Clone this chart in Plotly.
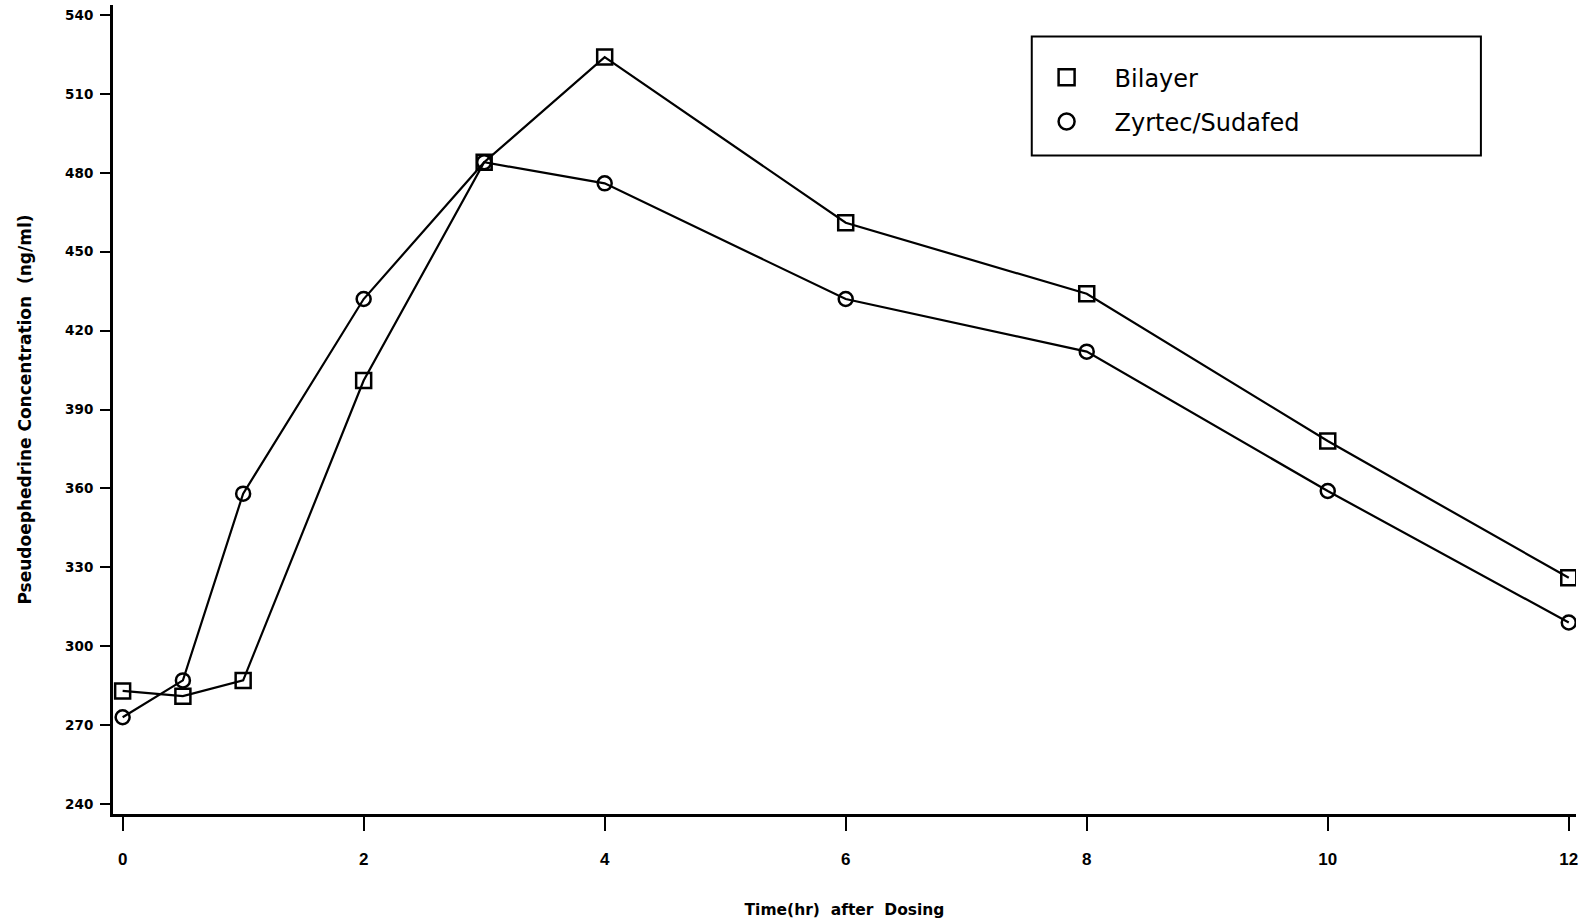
import plotly.graph_objects as go

time_hr = [0, 0.5, 1, 2, 3, 4, 6, 8, 10, 12]
bilayer = [283, 281, 287, 401, 484, 524, 461, 434, 378, 326]
zyrtec_sudafed = [273, 287, 358, 432, 484, 476, 432, 412, 359, 309]
x_ticks = [0, 2, 4, 6, 8, 10, 12]
y_ticks = [240, 270, 300, 330, 360, 390, 420, 450, 480, 510, 540]

FONT = "DejaVu Sans, Verdana, sans-serif"
FONT_B = "Liberation Sans, Arial, sans-serif"

fig = go.Figure()
fig.add_trace(go.Scatter(
    x=time_hr, y=bilayer, mode="lines+markers", name="Bilayer", showlegend=False,
    line=dict(color="black", width=2.2),
    marker=dict(symbol="square-open", size=15, color="black", line=dict(width=2.5, color="black")),
))
fig.add_trace(go.Scatter(
    x=time_hr, y=zyrtec_sudafed, mode="lines+markers", name="Zyrtec/Sudafed", showlegend=False,
    line=dict(color="black", width=2.2),
    marker=dict(symbol="circle-open", size=14, color="black", line=dict(width=2.5, color="black")),
))
# legend-only entries (marker symbol only, no line)
fig.add_trace(go.Scatter(
    x=[None], y=[None], mode="markers", name="Bilayer", legendgroup="a",
    marker=dict(symbol="square-open", size=23, color="black", line=dict(width=2.5, color="black")),
))
fig.add_trace(go.Scatter(
    x=[None], y=[None], mode="markers", name="Zyrtec/Sudafed", legendgroup="b",
    marker=dict(symbol="circle-open", size=23, color="black", line=dict(width=2.5, color="black")),
))

fig.update_layout(
    width=1588, height=921,
    margin=dict(l=113, r=12, t=5, b=103),
    paper_bgcolor="white", plot_bgcolor="white",
    font=dict(family=FONT, color="black"),
    showlegend=True,
    legend=dict(
        x=0.619, y=0.938, xanchor="left", yanchor="top",
        bgcolor="rgba(0,0,0,0)", borderwidth=0,
        font=dict(size=24, family=FONT, color="black"),
        tracegroupgap=10, itemwidth=86,
    ),
    shapes=[dict(
        type="rect", xref="paper", yref="paper",
        x0=0.628, x1=0.935, y0=0.814, y1=0.961,
        line=dict(color="black", width=2), fillcolor="rgba(0,0,0,0)",
    )],
    xaxis=dict(
        range=[-0.08, 12.06], tickmode="array", tickvals=x_ticks,
        showgrid=False, zeroline=False,
        showline=True, linecolor="black", linewidth=3,
        ticks="outside", ticklen=14, tickwidth=2, tickcolor="black",
        ticklabelstandoff=14,
        tickfont=dict(size=17, family=FONT_B, color="black", weight="bold"),
        title=dict(text="<b>Time(hr)  after  Dosing</b>", font=dict(size=15.5, family=FONT), standoff=36),
    ),
    yaxis=dict(
        range=[236.2, 543.8], tickmode="array", tickvals=y_ticks,
        showgrid=False, zeroline=False,
        showline=True, linecolor="black", linewidth=3,
        ticks="outside", ticklen=10, tickwidth=2, tickcolor="black",
        ticklabelstandoff=4,
        tickfont=dict(size=13.5, family=FONT, color="black", weight="bold"),
        title=dict(text="<b>Pseudoephedrine Concentration  (ng/ml)</b>", font=dict(size=17, family=FONT), standoff=30),
    ),
)

fig.write_html("out.html")
